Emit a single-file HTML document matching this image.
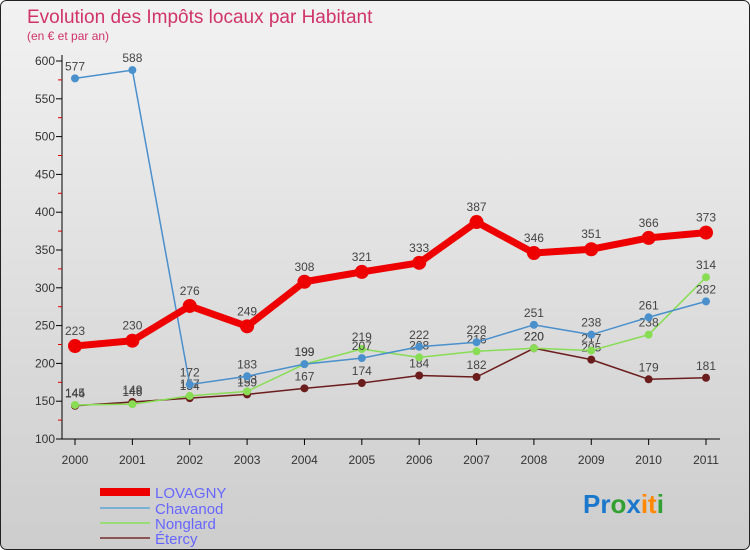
<!DOCTYPE html>
<html><head><meta charset="utf-8"><style>
body{margin:0}
#c{width:750px;height:550px;position:relative;overflow:hidden;font-family:"Liberation Sans",sans-serif}
</style></head><body>
<div id="c">
<svg id="s" width="750" height="550" xmlns="http://www.w3.org/2000/svg">
<defs><linearGradient id="bg" x1="0" y1="0" x2="0" y2="1"><stop offset="0" stop-color="#f2f2f2"/><stop offset="1" stop-color="#cdcdcd"/></linearGradient></defs>
<rect x="0.5" y="0.5" width="749" height="549" rx="6" fill="url(#bg)" stroke="#222"/>
<text x="27" y="23" font-size="19" fill="#d0336a">Evolution des Impôts locaux par Habitant</text>
<text x="27" y="40" font-size="12" fill="#d0336a">(en € et par an)</text>
<g id="axes"></g><g id="plot"></g>
<g font-size="15" fill="#6666ff">
<line x1="100" y1="492" x2="150" y2="492" stroke="#e00" stroke-width="8"/>
<text x="155" y="498">LOVAGNY</text>
<line x1="100" y1="508" x2="150" y2="508" stroke="#7ab0d6" stroke-width="2"/>
<text x="155" y="514">Chavanod</text>
<line x1="100" y1="523" x2="150" y2="523" stroke="#99dd77" stroke-width="2"/>
<text x="155" y="529">Nonglard</text>
<line x1="100" y1="538" x2="150" y2="538" stroke="#8b5555" stroke-width="2"/>
<text x="155" y="544">Étercy</text>
</g>
<text x="583" y="513" font-size="26" font-weight="bold"><tspan fill="#1a77cc">Pr</tspan><tspan fill="#33a033">o</tspan><tspan fill="#1a77cc">x</tspan><tspan fill="#ff8800">it</tspan><tspan fill="#33a033">i</tspan></text>
</svg>
</div>
<script>
const years=["2000","2001","2002","2003","2004","2005","2006","2007","2008","2009","2010","2011"];
const yTicks=[100,150,200,250,300,350,400,450,500,550,600];
const lovagny=[223,230,276,249,308,321,333,387,346,351,366,373];
const chavanod=[577,588,172,183,199,207,222,228,251,238,261,282];
const nonglard=[145,146,157,163,199,219,208,216,220,217,238,314];
const etercy=[144,149,154,159,167,174,184,182,220,205,179,181];
const NS="http://www.w3.org/2000/svg";
const X=i=>75+i*(706-75)/11;
const Y=v=>439-(v-100)*(439-61)/500;
function mk(t,a,p){const e=document.createElementNS(NS,t);for(const k in a)e.setAttribute(k,a[k]);p.appendChild(e);return e;}
const ax=document.getElementById('axes'),pl=document.getElementById('plot');
const ya=mk('line',{x1:62,y1:55,x2:62,y2:439,stroke:'#000'},ax);


const xa=mk('line',{x1:62,y1:439,x2:720,y2:439,stroke:'#000'},ax);


for(let v=125;v<600;v+=50){mk('line',{x1:58,y1:Y(v),x2:62,y2:Y(v),stroke:'#d00'},ax);}
yTicks.forEach(v=>{mk('line',{x1:56,y1:Y(v),x2:62,y2:Y(v),stroke:'#000'},ax);
const t=mk('text',{x:55,y:Y(v)+4,'font-size':12,'text-anchor':'end',fill:'#333'},ax);t.textContent=v;

});
years.forEach((y,i)=>{mk('line',{x1:X(i),y1:439,x2:X(i),y2:445,stroke:'#000'},ax);
const t=mk('text',{x:X(i),y:464,'font-size':12,'text-anchor':'middle',fill:'#333'},ax);t.textContent=y;

});
function series(d,name,col,w,r){
const g=mk('g',{},pl);


mk('polyline',{points:d.map((v,i)=>X(i)+','+Y(v)).join(' '),fill:'none',stroke:col,'stroke-width':w,'stroke-linejoin':'round'},g);
d.forEach((v,i)=>{const c=mk('circle',{cx:X(i),cy:Y(v),r:r,fill:col},g);


const t=mk('text',{x:X(i),y:Y(v)-8-(r>4?3:0),'font-size':12,'text-anchor':'middle',fill:'#444'},g);t.textContent=v;

});}
series(etercy,'etercy','#6b1d1d',1.5,4);
series(nonglard,'nonglard','#88dd55',1.5,4);
series(chavanod,'chavanod','#4a90cc',1.5,4);
series(lovagny,'lovagny','#ee0000',7,7);
</script>
</body></html>
